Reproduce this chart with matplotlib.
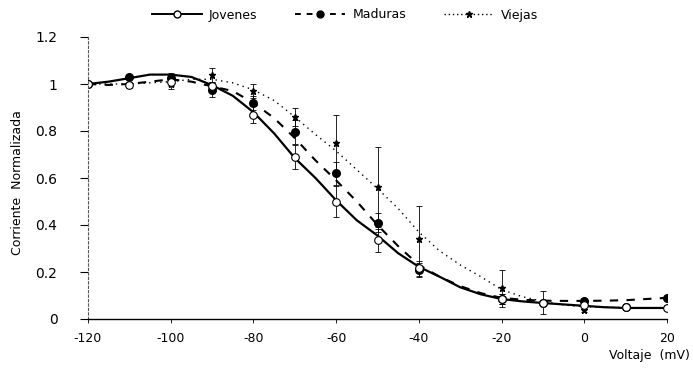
import matplotlib
matplotlib.use("Agg")
import matplotlib.pyplot as plt
import numpy as np

FONT = ['Liberation Sans Narrow', 'DejaVu Sans Condensed', 'DejaVu Sans']
plt.rcParams['font.family'] = FONT

# ---- data ----
voltage = [-120, -110, -100, -90, -80, -70, -60, -50, -40, -20, -10, 0, 10, 20]
jovenes = [1.0, 0.995, 1.01, 0.99, 0.87, 0.69, 0.50, 0.335, 0.215, 0.085, 0.07, 0.06, 0.05, 0.047]
jovenes_err = [0.01, 0.01, 0.02, 0.02, 0.035, 0.05, 0.065, 0.05, 0.03, 0.02, 0.01, 0.01, 0.01, 0.01]
maduras = [1.0, 1.03, 1.025, 0.975, 0.92, 0.795, 0.62, 0.41, 0.21, 0.085, 0.07, 0.077, 0.05, 0.09]
maduras_err = [0.01, 0.01, 0.02, 0.03, 0.03, 0.05, 0.05, 0.04, 0.03, 0.02, 0.01, 0.01, 0.01, 0.01]
viejas = [1.0, 1.0, 1.0, 1.04, 0.97, 0.86, 0.75, 0.56, 0.34, 0.13, 0.07, 0.04, 0.05, 0.05]
viejas_err = [0.01, 0.01, 0.02, 0.03, 0.03, 0.04, 0.12, 0.17, 0.14, 0.08, 0.05, 0.01, 0.01, 0.01]

# fitted curves, every 5 mV
fit_v = [-120, -115, -110, -105, -100, -95, -90, -85, -80, -75, -70, -65, -60, -55,
         -50, -45, -40, -35, -30, -25, -20, -15, -10, -5, 0, 5, 10, 15, 20]
fit_jovenes = [1.00, 1.01, 1.025, 1.04, 1.04, 1.03, 0.995, 0.95, 0.88, 0.79, 0.685, 0.60,
               0.505, 0.42, 0.355, 0.28, 0.222, 0.18, 0.135, 0.105, 0.085, 0.075, 0.068,
               0.062, 0.056, 0.05, 0.047, 0.047, 0.047]
fit_maduras = [1.00, 0.996, 1.0, 1.01, 1.02, 1.01, 0.99, 0.97, 0.92, 0.855, 0.77, 0.675,
               0.59, 0.50, 0.40, 0.31, 0.23, 0.18, 0.14, 0.11, 0.09, 0.082, 0.078, 0.077,
               0.077, 0.078, 0.08, 0.085, 0.09]
fit_viejas = [1.0, 1.0, 1.0, 1.005, 1.01, 1.02, 1.02, 1.005, 0.975, 0.93, 0.86, 0.785,
              0.715, 0.635, 0.555, 0.47, 0.37, 0.29, 0.23, 0.18, 0.125, 0.095, 0.075,
              0.06, 0.052, 0.05, 0.048, 0.047, 0.047]

x_ticks = [-120, -100, -80, -60, -40, -20, 0, 20]
y_ticks = [0, 0.2, 0.4, 0.6, 0.8, 1.0, 1.2]
y_ticklabels = ['0', '0.2', '0.4', '0.6', '0.8', '1', '1.2']

W, H = 693, 371
fig = plt.figure(figsize=(W / 100, H / 100), dpi=100)
ax = fig.add_axes([88 / W, 1 - 319 / H, (667 - 88) / W, (319 - 37) / H])

# fitted lines
ax.plot(fit_v, fit_jovenes, color='black', lw=1.6, ls='-')
ax.plot(fit_v, fit_maduras, color='black', lw=1.5, ls=(0, (4, 4)))
ax.plot(fit_v, fit_viejas, color='black', lw=1.0, ls=(0, (1, 3)))

# points with error bars
ax.errorbar(voltage, viejas, yerr=viejas_err, fmt='none', ecolor='black', elinewidth=0.6,
            capsize=2, capthick=0.6)
ax.errorbar(voltage, maduras, yerr=maduras_err, fmt='none', ecolor='black', elinewidth=0.6,
            capsize=2, capthick=0.6)
ax.errorbar(voltage, jovenes, yerr=jovenes_err, fmt='none', ecolor='black', elinewidth=0.6,
            capsize=2, capthick=0.6)
ax.plot(voltage, viejas, ls='none', marker='*', ms=5, color='black')
ax.plot(voltage, maduras, ls='none', marker='o', ms=5.5, color='black')
ax.plot(voltage, jovenes, ls='none', marker='o', ms=5.5, mfc='white', mec='black', mew=0.8)

# legend proxies
h1, = ax.plot([], [], color='black', lw=1.4, ls='-', marker='o', ms=5, mfc='white', mec='black')
h2, = ax.plot([], [], color='black', lw=1.4, ls=(0, (3, 3)), marker='o', ms=5)
h3, = ax.plot([], [], color='black', lw=1.0, ls=(0, (1, 2)), marker='*', ms=5)
fig.legend([h1, h2, h3], ['Jovenes', 'Maduras', 'Viejas'], loc='center',
           bbox_to_anchor=(345 / W, 1 - 15 / H), ncol=3, frameon=False,
           handlelength=4.0, columnspacing=3.0, handletextpad=0.6,
           prop={'family': FONT, 'size': 9})

ax.set_xlim(-120, 20)
ax.set_ylim(0, 1.2)
ax.set_xticks(x_ticks)
ax.set_xticklabels([str(v) for v in x_ticks])
ax.set_yticks(y_ticks)
ax.set_yticklabels(y_ticklabels)
ax.tick_params(axis='y', direction='out', length=6, width=0.8, pad=16, labelsize=10)
ax.tick_params(axis='x', direction='out', length=3, width=0.6, pad=6, labelsize=9)

for s in ['top', 'right']:
    ax.spines[s].set_visible(False)
ax.spines['left'].set_linewidth(0.8)
ax.spines['left'].set_linestyle((0, (2, 2)))
ax.spines['left'].set_color('#555555')
ax.spines['bottom'].set_linewidth(1.0)

fig.text(18 / W, 1 - 183 / H, 'Corriente  Normalizada', rotation=90,
         ha='center', va='center', fontsize=9)
fig.text(690 / W, 1 - 356 / H, 'Voltaje  (mV)', ha='right', va='center', fontsize=9)

fig.savefig('out.png', dpi=100)
